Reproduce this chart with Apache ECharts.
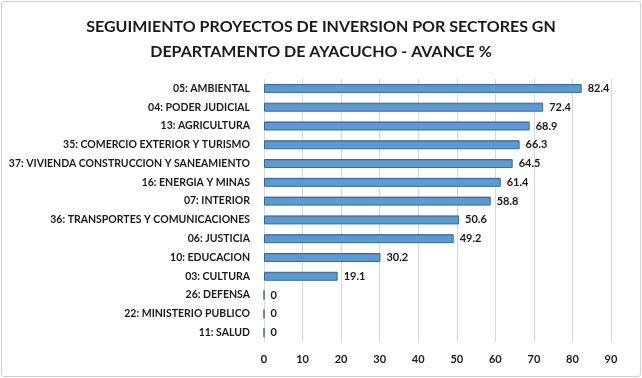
<!DOCTYPE html>
<html><head><meta charset="utf-8">
<script src="https://cdn.jsdelivr.net/npm/echarts@6/dist/echarts.min.js"></script>
<style>html,body{margin:0;padding:0;background:#fff}#c{width:642px;height:378px}
#frame{position:absolute;left:1px;top:1px;width:638px;height:374px;border:1px solid #d0d0d0;border-radius:3px;pointer-events:none}</style>
</head><body><div id="c"></div><div id="frame"></div>
<script>
var categories = ["05: AMBIENTAL","04: PODER JUDICIAL","13: AGRICULTURA","35: COMERCIO EXTERIOR Y TURISMO","37: VIVIENDA CONSTRUCCION Y SANEAMIENTO","16: ENERGIA Y MINAS","07: INTERIOR","36: TRANSPORTES Y COMUNICACIONES","06: JUSTICIA","10: EDUCACION","03: CULTURA","26: DEFENSA","22: MINISTERIO PUBLICO","11: SALUD"];
var avance = [82.4,72.4,68.9,66.3,64.5,61.4,58.8,50.6,49.2,30.2,19.1,0,0,0];
var titleLines = ["SEGUIMIENTO PROYECTOS DE INVERSION POR SECTORES GN","DEPARTAMENTO DE AYACUCHO - AVANCE %"];
var FONT = "Lato, 'Open Sans', sans-serif";
var chart = echarts.init(document.getElementById('c'));
chart.setOption({
  animation:false,
  title:{text:titleLines.join('\n'),left:'center',top:9,textStyle:{fontFamily:FONT,fontSize:16,fontWeight:'bold',color:'#1a1a1a',lineHeight:25}},
  grid:{left:264,right:31,top:79,bottom:36,containLabel:false},
  xAxis:{type:'value',min:0,max:90,interval:10,
    axisLabel:{fontFamily:FONT,fontSize:11,fontWeight:'bold',color:'#1a1a1a',margin:12},
    axisLine:{show:false},axisTick:{show:false},
    splitLine:{lineStyle:{color:'#d9d9d9',width:1}}},
  yAxis:{type:'category',data:categories,inverse:true,
    axisLabel:{fontFamily:FONT,fontSize:10.5,fontWeight:'bold',color:'#1a1a1a',margin:14},
    axisLine:{show:false},axisTick:{show:false}},
  series:[{type:'bar',data:avance,barWidth:9,
    itemStyle:{color:new echarts.graphic.LinearGradient(0,0,0,1,[{offset:0,color:'#3f6fa0'},{offset:0.25,color:'#5b9bd5'},{offset:1,color:'#5b9bd5'}]),borderColor:'#3a6896',borderWidth:1},
    label:{show:true,position:'right',distance:6,fontFamily:FONT,fontSize:11,fontWeight:'bold',color:'#1a1a1a'}}]
});
</script></body></html>
